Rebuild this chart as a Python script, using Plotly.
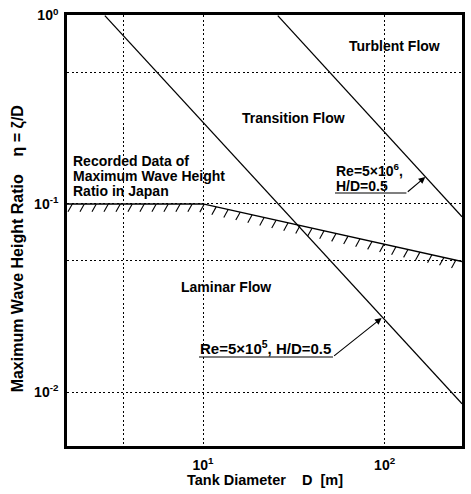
import numpy as np
import plotly.graph_objects as go

# ---- data ----
laminar_D = [2.88, 10, 100, 267]          # Re=5x10^5, H/D=0.5
laminar_eta = [1.0, 0.271, 0.0244, 0.0087]
turb_D = [25.8, 100, 267]                  # Re=5x10^6, H/D=0.5
turb_eta = [1.0, 0.241, 0.0855]
record_D = [1.78, 10, 267]                 # recorded max wave height ratio in Japan
record_eta = [0.1, 0.1, 0.0495]

x_grid = [3.65, 10, 100]
x_ticktext = ["", "10<sup>1</sup>", "10<sup>2</sup>"]
y_grid = [0.01, 0.05, 0.1, 0.5, 1]
y_ticktext = ["10<sup>-2</sup>", "", "10<sup>-1</sup>", "", "10<sup>0</sup>"]

W, H = 471, 494
L, R, T, B = 67, 6, 15, 48
FONT = "Liberation Sans, Arial, sans-serif"


def paper(px, py):
    return (px - L) / (W - L - R), (H - B - py) / (H - T - B)


fig = go.Figure()

# hatch strokes hanging below the record line (style decoration)
lx_rec = np.log10(record_D)
ly_rec = np.log10(record_eta)
hx, hy = [], []
for lx in np.arange(lx_rec[0] + 0.03, lx_rec[-1] - 0.01, 0.066):
    ly = np.interp(lx, lx_rec, ly_rec)
    hx += [10 ** lx, 10 ** (lx - 0.024), None]
    hy += [10 ** ly, 10 ** (ly - 0.042), None]
fig.add_trace(go.Scatter(x=hx, y=hy, mode="lines",
                         line=dict(color="black", width=1.1),
                         showlegend=False, hoverinfo="skip"))
fig.add_trace(go.Scatter(x=record_D, y=record_eta, mode="lines",
                         line=dict(color="black", width=1.4), showlegend=False,
                         hoverinfo="skip"))

fig.add_trace(go.Scatter(x=laminar_D, y=laminar_eta, mode="lines",
                         line=dict(color="black", width=1.3), showlegend=False))
fig.add_trace(go.Scatter(x=turb_D, y=turb_eta, mode="lines",
                         line=dict(color="black", width=1.3), showlegend=False))

axis_common = dict(showline=True, linecolor="black", linewidth=2.6, mirror=True,
                   ticks="", showgrid=True, gridcolor="black", gridwidth=1.3,
                   griddash="2px,2.5px", zeroline=False,
                   tickfont=dict(family=FONT, size=14, color="black", weight="bold"))

fig.update_xaxes(type="log", range=[0.251, 2.426], tickmode="array",
                 tickvals=x_grid, ticktext=x_ticktext, ticklabelstandoff=4,
                 **axis_common)
fig.update_yaxes(type="log", range=[-2.285, 0.003], tickmode="array",
                 tickvals=y_grid, ticktext=y_ticktext, ticklabelstandoff=3,
                 **axis_common)

annos = []


def text(s, px, py, anchor="center", size=14, angle=0):
    x, y = paper(px, py)
    annos.append(dict(text=s, x=x, y=y, xref="paper", yref="paper",
                      xanchor=anchor, yanchor="middle", showarrow=False,
                      textangle=angle, borderpad=0,
                      font=dict(family=FONT, size=size, color="black",
                                weight="bold")))


text("Turblent Flow", 397, 46)
text("Transition Flow", 295, 118)
text("Recorded Data of", 72, 161, "left", 14)
text("Maximum Wave Height", 72, 176, "left", 14)
text("Ratio in Japan", 72, 191, "left", 14)
text("Laminar Flow", 227, 287)
text("Re=5×10<sup>5</sup>, H/D=0.5", 200, 347, "left", 15)
text("Re=5×10<sup>6</sup>,", 337, 170, "left", 14)
text("H/D=0.5", 337, 186, "left", 14)
text("Tank Diameter\u00a0\u00a0\u00a0\u00a0D\u00a0\u00a0[m]", 267, 480, "center", 14.5)
text("Maximum Wave Height Ratio\u00a0\u00a0\u00a0\u00a0η = ζ/D", 18, 249, "center", 16, -90)

# arrows
for head, tail in [((384, 318), (335, 357)), ((428, 177), (409, 193))]:
    x, y = paper(*head)
    annos.append(dict(text="", x=x, y=y, xref="paper", yref="paper",
                      ax=tail[0] - head[0], ay=tail[1] - head[1],
                      showarrow=True, arrowhead=2, arrowsize=1.2,
                      arrowwidth=1.1, arrowcolor="black", standoff=0))
fig.update_layout(annotations=annos)

# underlines
for (x0p, x1p, yp) in [(200, 335, 357), (337, 409, 193)]:
    x0, y0 = paper(x0p, yp)
    x1, _ = paper(x1p, yp)
    fig.add_shape(type="line", xref="paper", yref="paper", x0=x0, x1=x1,
                  y0=y0, y1=y0, line=dict(color="black", width=1.2))

fig.update_layout(width=W, height=H, margin=dict(l=L, r=R, t=T, b=B),
                  plot_bgcolor="white", paper_bgcolor="white",
                  font=dict(family=FONT, color="black"))

fig.write_html("out.html")
